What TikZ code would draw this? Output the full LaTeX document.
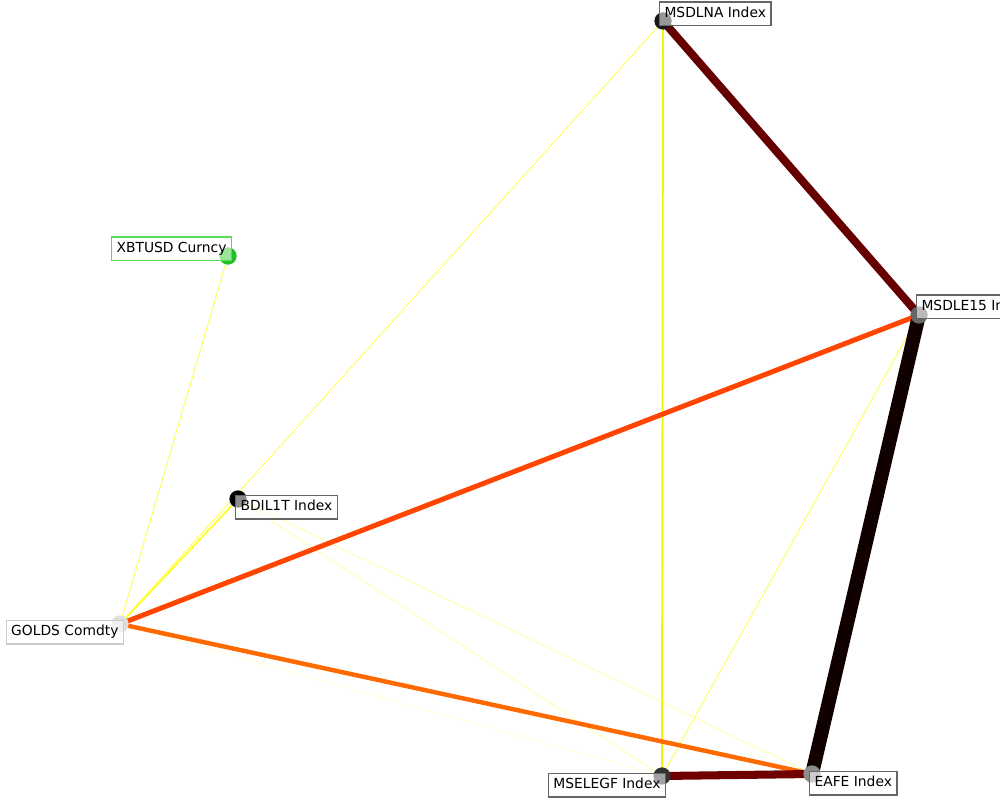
\documentclass[tikz,border=0pt]{standalone}
\usepackage{fontspec}
\setmainfont{DejaVu Sans}

\definecolor{blackred}{HTML}{100000}
\definecolor{darkred}{HTML}{660000}
\definecolor{maroon}{HTML}{700000}
\definecolor{redorange}{HTML}{FF4500}
\definecolor{deeporange}{HTML}{FF6A00}
\definecolor{yellow1}{HTML}{F4F400}
\definecolor{yellow2}{HTML}{FFFF30}
\definecolor{yellow3}{HTML}{FFFF60}
\definecolor{yellow4}{HTML}{FFFFA0}
\definecolor{yellow5}{HTML}{FFFFCC}
\definecolor{boxgray}{HTML}{666666}
\definecolor{lightbox}{HTML}{CCCCCC}
\definecolor{greenbox}{HTML}{55DD55}
\definecolor{dotgreen}{HTML}{22C022}

\begin{document}
\begin{tikzpicture}[x=0.01in,y=-0.01in,
	dot/.style={draw=none,circle,inner sep=0,outer sep=0,minimum size=12.5},
	tag/.style={draw=#1,fill=white,fill opacity=0.55,text opacity=1,line width=0.8pt,font=\fontsize{10pt}{12pt}\selectfont,text height=7.5pt,text depth=2.2pt,inner xsep=3.6pt,inner ysep=3.6pt},
	tag/.default=boxgray,
	link/.style={line width=#1,line cap=butt}]
	\useasboundingbox (0,0) rectangle (1000,800);
	\coordinate (1) at (663,21);
	\coordinate (2) at (919,315);
	\coordinate (3) at (812,774);
	\coordinate (4) at (662,776);
	\coordinate (5) at (120,624);
	\coordinate (6) at (238,499);
	\coordinate (7) at (228,256);
	\draw[link=0.45pt,yellow5] (5) -- (4);
	\draw[link=0.55pt,yellow4] (6) -- (4);
	\draw[link=0.55pt,yellow4] (6) -- (3);
	\draw[link=0.7pt,yellow3] (7) -- (5);
	\draw[link=0.7pt,yellow3] (1) -- (5);
	\draw[link=0.7pt,yellow3] (2) -- (4);
	\draw[link=1.4pt,yellow2] (6) -- (5);
	\draw[link=1.4pt,yellow1] (1) -- (4);
	\draw[link=3.2pt,deeporange] (5) -- (3);
	\draw[link=3.6pt,redorange] (5) -- (2);
	\draw[link=5.8pt,darkred] (1) -- (2);
	\draw[link=5.8pt,maroon] (4) -- (3);
	\draw[link=10pt,blackred] (2) -- (3);
	\node[dot,fill=black!90] (d1) at (1) {};
	\node[dot,fill=black!60] (d2) at (2) {};
	\node[dot,fill=black!45] (d3) at (3) {};
	\node[dot,fill=black!80] (d4) at (4) {};
	\node[dot,fill=black!13] (d5) at (5) {};
	\node[dot,fill=black] (d6) at (6) {};
	\node[dot,fill=dotgreen] (d7) at (7) {};
	\node[tag,anchor=south west] (l1) at ([shift={(-4,5)}]1) {MSDLNA Index};
	\node[tag,anchor=south west] (l2) at ([shift={(-3,4)}]2) {MSDLE15 Index};
	\node[tag,anchor=north west] (l3) at ([shift={(-3,-3)}]3) {EAFE Index};
	\node[tag,anchor=north east] (l4) at ([shift={(4,-3)}]4) {MSELEGF Index};
	\node[tag=lightbox,anchor=north east] (l5) at ([shift={(4,-4)}]5) {GOLDS Comdty};
	\node[tag,anchor=north west] (l6) at ([shift={(-3,-4)}]6) {BDIL1T Index};
	\node[tag=greenbox,anchor=south east] (l7) at ([shift={(4,5)}]7) {XBTUSD Curncy};
\end{tikzpicture}
\end{document}
